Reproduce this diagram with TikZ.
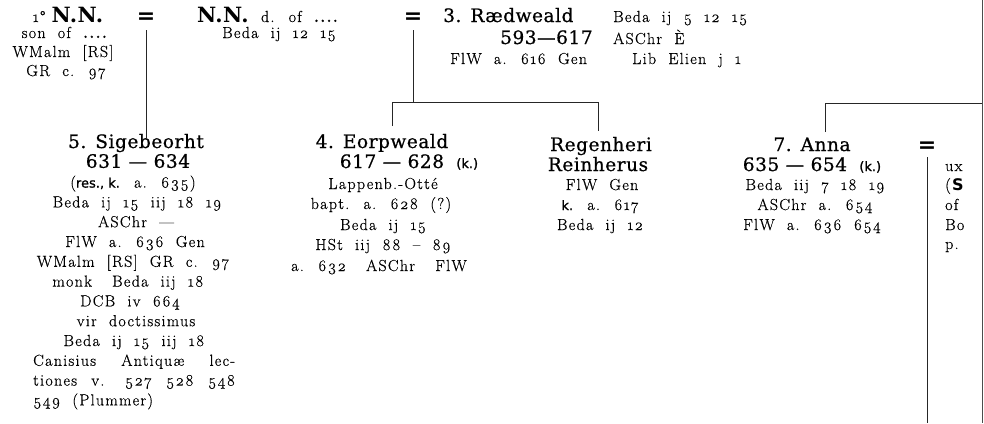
\documentclass[tikz,border=0pt]{standalone}
\usepackage{fontspec}
\setmainfont{Latin Modern Roman}
\newfontfamily\bodyf{Latin Modern Roman}[Numbers=OldStyle,LetterSpace=8,WordSpace=2.0,FakeBold=0.5]
\newfontfamily\headf{DejaVu Serif}[LetterSpace=3,FakeBold=0.7]
\newfontfamily\nnf{DejaVu Serif}[LetterSpace=2]
\newfontfamily\sansf{DejaVu Sans}
\newfontfamily\sanskf{DejaVu Sans}[FakeBold=1.2]
\newcommand\bodysz{\bodyf\fontsize{16}{20}\selectfont}
\newcommand\hd[1]{{\headf\fontsize{18.5}{20}\selectfont #1}}
\newcommand\myNN{{\nnf\bfseries\fontsize{21}{20}\selectfont N.N.}}
\newcommand\sansk[1]{{\sanskf\fontsize{13}{20}\selectfont #1}}
\tikzset{
  body/.style={inner sep=0pt, anchor=base, font=\bodysz},
  bodyw/.style={body, anchor=base west},
  eqs/.style={inner sep=0pt, font=\sansf\bfseries\fontsize{22}{22}\selectfont},
  conn/.style={draw=black!85, line width=0.8pt}
}
\begin{document}
\begin{tikzpicture}[x=1pt,y=-1pt]
\useasboundingbox (0,0) rectangle (984,423);
% ---------- top row ----------
\node[body] (nn1) at (68,22) {1°\hspace{6pt}\myNN};
\node[body] (nn1b) at (65,38) {son of \textbf{....}};
\node[body] (nn1c) at (63,57) {WMalm [RS]};
\node[body] (nn1d) at (66,76) {GR c. 97};
\node[eqs] (eq1) at (146,18) {=};
\node[bodyw] (nn2) at (197,22) {\myNN\ d. of \textbf{....}};
\node[body] (nn2b) at (279,38) {Beda ij 12 15};
\node[eqs] (eq2) at (413,18) {=};
\node[bodyw] (rw) at (443,22) {\hd{3.\hspace{9pt}Rædweald}};
\node[bodyw] (rwa) at (613,22) {Beda ij 5 12 15};
\node[bodyw] (rwb) at (500,44) {\hd{593—617}};
\node[bodyw] (rwc) at (613,44) {ASChr È};
\node[bodyw] (rwd) at (450,64) {FlW a. 616 Gen};
\node[bodyw] (rwe) at (632,64) {Lib Elien j 1};
% ---------- Sigebeorht ----------
\node[body] (sig0) at (136,148) {\hd{5.\hspace{9pt}Sigebeorht}};
\node[body] (sig1) at (138,167.8) {\hd{631 — 634}};
\node[body] (sig2) at (133,187.6) {(\sansk{res., k.} a. 635)};
\node[body] (sig3) at (137,207.4) {Beda ij 15 iij 18 19};
\node[body] (sig4) at (136,227.2) {ASChr —};
\node[body] (sig5) at (135,247) {FlW a. 636 Gen};
\node[body] (sig6) at (133,266.8) {WMalm [RS] GR c. 97};
\node[body] (sig7) at (128,286.6) {monk\hspace{8pt} Beda iij 18};
\node[body] (sig8) at (130,306.4) {DCB iv 664};
\node[body] (sig9) at (136,326.2) {vir doctissimus};
\node[body] (sig10) at (134,346) {Beda ij 15 iij 18};
\node[bodyw] (sig11) at (33,365.8) {\makebox[202pt][s]{Canisius Antiquæ lec-}};
\node[bodyw] (sig12) at (33,385.6) {\makebox[202pt][s]{tiones v. 527 528 548}};
\node[bodyw] (sig13) at (33,405.4) {549 (Plummer)};
% ---------- Eorpweald ----------
\node[body] (eor0) at (382,148) {\hd{4.\hspace{9pt}Eorpweald}};
\node[body] (eor1) at (409,168) {\hd{617 — 628} \sansk{(k.)}};
\node[body] (eor2) at (383,189) {Lappenb.-Otté};
\node[body] (eor3) at (381,209) {bapt. a. 628 (?)};
\node[body] (eor4) at (383,230) {Beda ij 15};
\node[body] (eor5) at (383,250) {HSt iij 88 – 89};
\node[body] (eor6) at (379,271) {a. 632\hspace{8pt} ASChr\hspace{8pt} FlW};
% ---------- Regenheri ----------
\node[body] (reg0) at (601,151) {\hd{Regenheri}};
\node[body] (reg1) at (598,171) {\hd{Reinherus}};
\node[body] (reg2) at (602,190) {FlW Gen};
\node[body] (reg3) at (600,210) {\sansk{k.} a. 617};
\node[body] (reg4) at (600,230) {Beda ij 12};
% ---------- Anna ----------
\node[body] (ann0) at (812,151) {\hd{7.\hspace{9pt}Anna}};
\node[body] (ann1) at (812,171) {\hd{635 — 654} \sansk{(k.)}};
\node[body] (ann2) at (815,190) {Beda iij 7 18 19};
\node[body] (ann3) at (815,210) {ASChr a. 654};
\node[body] (ann4) at (812,230) {FlW a. 636 654};
\node[eqs] (eq3) at (927,147) {=};
% ---------- right edge column ----------
\node[bodyw] (ux0) at (945,171) {ux};
\node[bodyw] (ux1) at (945,190) {(\textbf{\sansf S}};
\node[bodyw] (ux2) at (945,210) {of};
\node[bodyw] (ux3) at (945,230) {Bo};
\node[bodyw] (ux4) at (945,249) {p.};
% ---------- connectors ----------
\coordinate (e1) at (145,127);
\coordinate (bar1) at (413,102);
\coordinate (bar2) at (982,103);
\coordinate (rtop) at (982,0);
\coordinate (rbot) at (982,423);
\coordinate (d1) at (392,126);
\coordinate (d2) at (598,131);
\coordinate (d3) at (825,132);
\draw[conn] ([yshift=-12pt]eq1.center) -- ([yshift=-12pt]eq1.center |- e1);
\draw[conn] ([yshift=-12pt]eq2.center) -- (eq2.center |- bar1);
\draw[conn] (d1) -- (d1 |- bar1) -- (d2 |- bar1) -- (d2);
\draw[conn] (d3) -- (d3 |- bar2) -- (bar2);
\draw[conn] ([yshift=-10pt]eq3.center) -- (eq3.center |- rbot);
\draw[draw=black!70, line width=0.8pt] (rtop) -- (rbot);
\end{tikzpicture}
\end{document}
